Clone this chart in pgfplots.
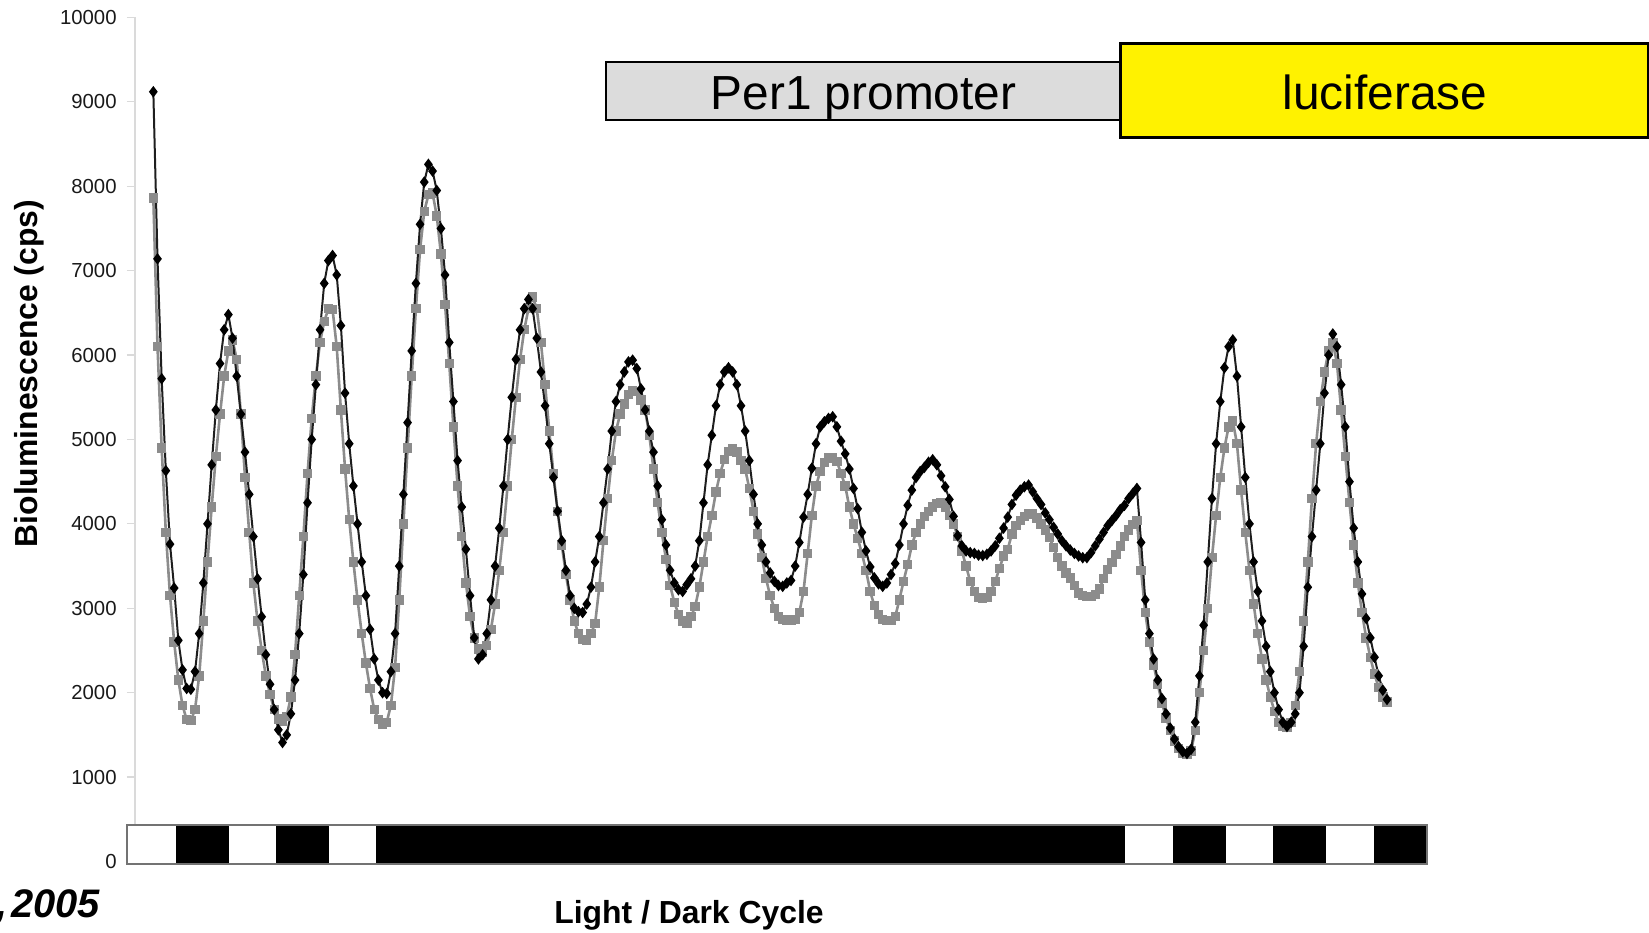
\documentclass[border=0pt]{standalone}
\usepackage{pgfplots}
\pgfplotsset{compat=1.18}
\usepackage{pgfplotstable}
\usepackage{fontspec}
\setmainfont{Liberation Sans}
\setsansfont{Liberation Sans}
\definecolor{grayser}{HTML}{8C8C8C}
\definecolor{blackser}{HTML}{1E1E1E}
\definecolor{boxgray}{HTML}{DCDCDC}
\definecolor{axisgray}{HTML}{DADADA}

\pgfplotstableread{
k b g
0 9120 7860
1 7140 6100
2 5720 4900
3 4630 3900
4 3760 3150
5 3240 2600
6 2620 2150
7 2270 1850
8 2050 1680
9 2040 1670
10 2250 1800
11 2700 2200
12 3300 2850
13 4000 3550
14 4700 4200
15 5350 4800
16 5900 5300
17 6300 5750
18 6480 6050
19 6200 6180
20 5750 5950
21 5300 5300
22 4850 4550
23 4350 3900
24 3850 3300
25 3350 2850
26 2900 2500
27 2450 2200
28 2100 1980
29 1800 1800
30 1560 1690
31 1410 1660
32 1500 1720
33 1750 1950
34 2150 2450
35 2700 3150
36 3400 3850
37 4250 4600
38 5000 5250
39 5650 5750
40 6300 6150
41 6850 6400
42 7120 6550
43 7180 6540
44 6950 6100
45 6350 5350
46 5550 4650
47 4950 4050
48 4450 3550
49 4000 3100
50 3550 2700
51 3150 2350
52 2750 2050
53 2400 1800
54 2150 1680
55 2000 1620
56 1990 1650
57 2250 1850
58 2700 2300
59 3500 3100
60 4350 4000
61 5200 4900
62 6050 5750
63 6850 6550
64 7550 7250
65 8050 7700
66 8260 7900
67 8180 7920
68 7950 7650
69 7500 7200
70 6950 6600
71 6150 5900
72 5450 5150
73 4750 4450
74 4200 3850
75 3700 3300
76 3150 2900
77 2650 2650
78 2400 2520
79 2450 2480
80 2700 2560
81 3100 2750
82 3500 3050
83 3950 3450
84 4450 3900
85 5000 4450
86 5500 5000
87 5950 5500
88 6300 5950
89 6550 6300
90 6660 6550
91 6550 6690
92 6200 6550
93 5800 6150
94 5400 5650
95 4950 5100
96 4550 4600
97 4150 4150
98 3800 3750
99 3450 3400
100 3150 3100
101 3000 2850
102 2960 2700
103 2950 2630
104 3050 2620
105 3250 2700
106 3550 2820
107 3850 3250
108 4250 3800
109 4650 4300
110 5100 4750
111 5450 5100
112 5650 5300
113 5800 5420
114 5920 5530
115 5940 5580
116 5840 5570
117 5600 5470
118 5350 5350
119 5100 5050
120 4850 4650
121 4450 4250
122 4050 3900
123 3750 3580
124 3450 3270
125 3300 3070
126 3220 2930
127 3200 2850
128 3280 2820
129 3350 2900
130 3500 3020
131 3800 3250
132 4250 3550
133 4700 3850
134 5050 4100
135 5400 4380
136 5650 4600
137 5800 4760
138 5850 4860
139 5800 4890
140 5650 4850
141 5400 4750
142 5100 4650
143 4750 4420
144 4350 4150
145 4000 3880
146 3750 3600
147 3550 3350
148 3420 3150
149 3320 3000
150 3270 2900
151 3260 2870
152 3300 2860
153 3330 2860
154 3500 2870
155 3780 2950
156 4080 3200
157 4350 3650
158 4660 4100
159 4950 4450
160 5150 4620
161 5210 4730
162 5250 4780
163 5270 4790
164 5150 4740
165 4980 4600
166 4830 4450
167 4650 4200
168 4420 4000
169 4180 3830
170 3900 3650
171 3680 3450
172 3490 3200
173 3360 3030
174 3290 2930
175 3260 2870
176 3300 2855
177 3400 2855
178 3530 2900
179 3750 3100
180 4000 3320
181 4220 3520
182 4400 3750
183 4550 3900
184 4620 4000
185 4670 4090
186 4730 4150
187 4760 4200
188 4700 4240
189 4570 4250
190 4440 4200
191 4290 4100
192 4090 4000
193 3860 3850
194 3740 3680
195 3680 3500
196 3660 3320
197 3650 3200
198 3630 3130
199 3625 3120
200 3640 3130
201 3680 3200
202 3740 3320
203 3830 3470
204 3950 3620
205 4080 3700
206 4230 3880
207 4340 3980
208 4400 4040
209 4440 4090
210 4460 4115
211 4380 4120
212 4300 4070
213 4230 4000
214 4130 3930
215 4050 3840
216 3960 3720
217 3880 3600
218 3800 3500
219 3740 3420
220 3690 3360
221 3650 3270
222 3620 3180
223 3600 3150
224 3600 3140
225 3660 3140
226 3740 3160
227 3820 3230
228 3900 3350
229 3980 3460
230 4040 3540
231 4100 3640
232 4170 3740
233 4220 3850
234 4300 3930
235 4360 3990
236 4420 4040
237 3780 3450
238 3100 2950
239 2700 2600
240 2400 2330
241 2150 2100
242 1930 1880
243 1750 1700
244 1580 1550
245 1450 1430
246 1360 1340
247 1300 1280
248 1280 1270
249 1330 1310
250 1650 1550
251 2200 2000
252 2800 2500
253 3550 3000
254 4300 3600
255 4950 4100
256 5450 4550
257 5850 4900
258 6100 5150
259 6180 5220
260 5750 4950
261 5150 4400
262 4550 3900
263 4000 3450
264 3550 3050
265 3200 2700
266 2850 2400
267 2550 2150
268 2250 1950
269 2000 1780
270 1800 1650
271 1650 1600
272 1600 1590
273 1650 1650
274 1750 1850
275 2000 2250
276 2550 2850
277 3250 3550
278 3850 4300
279 4400 4950
280 4950 5450
281 5550 5800
282 6000 6050
283 6250 6150
284 6100 5900
285 5650 5350
286 5150 4800
287 4500 4250
288 3950 3750
289 3550 3300
290 3170 2950
291 2880 2650
292 2650 2420
293 2420 2220
294 2200 2060
295 2030 1950
296 1920 1890
}\lumi

\begin{document}
\begin{tikzpicture}
\begin{axis}[
  scale only axis, width=646bp, height=422bp,
  xmin=-4.4, xmax=305.6, ymin=0, ymax=10000,
  axis x line=none, axis y line=left,
  y axis line style={-, draw=axisgray, line width=0.8bp},
  ytick={0,1000,...,10000},
  ytick style={draw=axisgray, line width=0.6bp},
  tick align=outside, major tick length=4bp,
  scaled y ticks=false,
  /pgf/number format/assume math mode=true,
  /pgf/number format/1000 sep={},
  yticklabel style={font=\fontsize{10.2}{12}\selectfont, text=black!90, inner sep=0pt, anchor=east, xshift=-5bp},
  clip=false,
  ylabel={Bioluminescence (cps)},
  ylabel style={font=\fontsize{16}{19}\selectfont\bfseries, at={(axis description cs:-0.0751,0.578)}, anchor=base, inner sep=0pt},
]
\addplot[color=grayser, line width=1.3bp, mark=square*, mark size=1.7bp, mark options={fill=grayser, draw=grayser, solid}] table[x=k, y=g] {\lumi};
\addplot[color=blackser, line width=1bp, mark=diamond*, mark size=2.1bp, mark options={fill=black, draw=black, solid}] table[x=k, y=b] {\lumi};
% light / dark bar
\fill[white] (axis cs:-6.31,-30) rectangle (axis cs:305.6,432);
\fill[black] (axis cs:5.45,-30) rectangle (axis cs:18.17,432);
\fill[black] (axis cs:29.45,-30) rectangle (axis cs:42.17,432);
\fill[black] (axis cs:53.45,-30) rectangle (axis cs:233.2,432);
\fill[black] (axis cs:244.6,-30) rectangle (axis cs:257.3,432);
\fill[black] (axis cs:268.7,-30) rectangle (axis cs:281.4,432);
\fill[black] (axis cs:292.9,-30) rectangle (axis cs:305.6,432);
\draw[black!55, line width=0.6bp] (axis cs:-6.31,-30) rectangle (axis cs:305.6,432);
\end{axis}
\coordinate (O) at (current axis.south west);
\draw[fill=boxgray, line width=1bp] ([shift={(235.5bp,370.75bp)}]O) rectangle ([shift={(493bp,399.75bp)}]O);
\draw[fill=yellow, line width=1.5bp] ([shift={(492.5bp,361.75bp)}]O) rectangle ([shift={(756.5bp,408.75bp)}]O);
\node[anchor=base, font=\fontsize{24}{28}\selectfont, inner sep=0pt] at ([shift={(364.25bp,375.75bp)}]O) {Per1 promoter};
\node[anchor=base, font=\fontsize{24}{28}\selectfont, inner sep=0pt] at ([shift={(625bp,375.75bp)}]O) {luciferase};
\node[anchor=base, font=\fontsize{16}{19}\selectfont\bfseries, inner sep=0pt] at ([shift={(277bp,-30.75bp)}]O) {Light / Dark Cycle};
\node[anchor=base west, font=\fontsize{20}{23}\selectfont\bfseries\itshape, inner sep=0pt] at ([shift={(-69.5bp,-27.75bp)}]O) {,\kern0.1em 2005};
\pgfresetboundingbox
\path[use as bounding box] ([shift={(-67.5bp,-35.75bp)}]O) rectangle ([shift={(757bp,430.75bp)}]O);
\end{tikzpicture}
\end{document}
